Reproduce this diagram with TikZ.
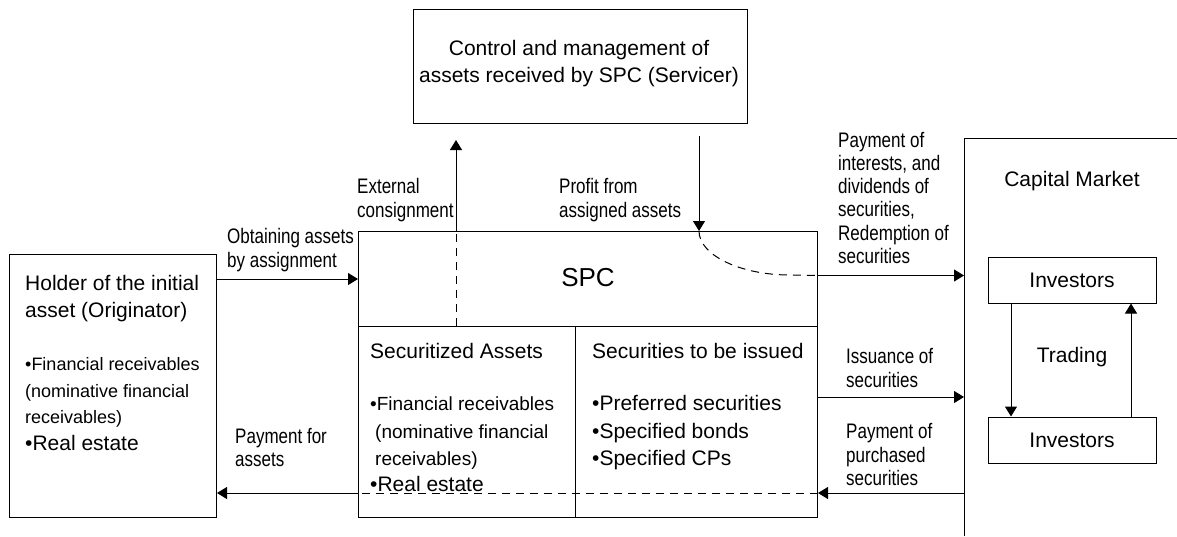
\documentclass[tikz,border=0pt]{standalone}
\usepackage{fontspec}
\setmainfont{Liberation Sans}
\newfontfamily\narrowfont{Liberation Sans}[FakeStretch=0.81]
\usetikzlibrary{arrows.meta,calc}

\begin{document}
\begin{tikzpicture}[x=1pt,y=-1pt,
	box/.style={draw, line width=1pt, inner sep=0pt},
	arr/.style={line width=1pt, -{Triangle[length=10pt,width=12pt]}},
	dsh/.style={line width=1pt, dash pattern=on 8pt off 6pt},
	txt/.style={inner sep=0pt, anchor=base west, font=\fontsize{21}{27}\selectfont},
	small/.style={txt, font=\fontsize{18.5}{27}\selectfont},
	lbl/.style={inner sep=0pt, anchor=base west, font=\narrowfont\fontsize{21}{24}\selectfont}]
	\useasboundingbox (0,0) rectangle (1177,536);
	% boxes
	\node [box, anchor=north west, minimum width=207pt, minimum height=263pt] (orig) at (9,254) {};
	\node [box, anchor=north west, minimum width=334pt, minimum height=114pt] (serv) at (413,9) {};
	\node [box, anchor=north west, minimum width=459pt, minimum height=95pt] (spc) at (358,231) {};
	\node [box, anchor=north west, minimum width=217pt, minimum height=191pt] (secA) at (358,326) {};
	\node [box, anchor=north west, minimum width=242pt, minimum height=191pt] (secB) at (575,326) {};
	\node [box, minimum width=168pt, minimum height=46pt, font=\fontsize{21}{27}\selectfont] (inv1) at (1072,280) {Investors};
	\node [box, minimum width=168pt, minimum height=46pt, font=\fontsize{21}{27}\selectfont] (inv2) at (1072,440) {Investors};
	\coordinate (capm) at (964,138);
	\draw [line width=1pt] (1177,138) -- (capm) -- (capm |- 0,536);
	% texts in the boxes
	\node [txt] (orig1) at (25,290) {Holder of the initial};
	\node [txt] (orig2) at (25,317) {asset (Originator)};
	\node [small, font=\fontsize{18}{27}\selectfont] (orig3) at (25,370) {•Financial receivables};
	\node [small, font=\fontsize{18}{27}\selectfont] (orig4) at (25,397) {(nominative financial};
	\node [small, font=\fontsize{18}{27}\selectfont] (orig5) at (25,423) {receivables)};
	\node [txt] (orig6) at (25,450) {•Real estate};
	\node [txt, anchor=base] (serv1) at (579,55) {Control and management of};
	\node [txt, anchor=base] (serv2) at (579,82) {assets received by SPC (Servicer)};
	\node [txt, anchor=base, font=\fontsize{26}{30}\selectfont] (spc1) at (588,286) {SPC};
	\node [txt] (secA1) at (370,358) {Securitized Assets};
	\node [small, font=\fontsize{19}{27}\selectfont] (secA2) at (370,410) {•Financial receivables};
	\node [small, font=\fontsize{19}{27}\selectfont] (secA3) at (375,438) {(nominative financial};
	\node [small, font=\fontsize{19}{27}\selectfont] (secA4) at (375,465) {receivables)};
	\node [txt] (secA5) at (370,491) {•Real estate};
	\node [txt] (secB1) at (592,358) {Securities to be issued};
	\node [txt] (secB2) at (592,410) {•Preferred securities};
	\node [txt] (secB3) at (592,438) {•Specified bonds};
	\node [txt] (secB4) at (592,465) {•Specified CPs};
	\node [txt, anchor=base] (capm1) at (1072,186) {Capital Market};
	\node [txt, anchor=base] (trade) at (1072,362) {Trading};
	% connectors
	\draw [arr] (orig.east |- spc.west) -- (spc.west);
	\coordinate (ext) at (456,140);
	\draw [dsh] (ext |- secA.north) -- (ext |- spc.north);
	\draw [arr] (ext |- spc.north) -- (ext);
	\coordinate (prof) at (699,136);
	\coordinate (intpt) at ([yshift=3.5pt]spc.east);
	\draw [arr] (prof) -- (prof |- spc.north);
	\draw [dsh] (prof |- spc.north) .. controls +(0,24) and +(-50,0) .. (790,275) -- (intpt);
	\draw [arr] (intpt) -- (intpt -| capm);
	\coordinate (iss) at (964,397);
	\draw [arr] (iss -| secB.east) -- (iss);
	\coordinate (pay) at (964,493);
	\draw [arr] (pay) -- (pay -| secB.east);
	\draw [dsh] (pay -| secB.east) -- (pay -| secA.west);
	\draw [arr] (pay -| secA.west) -- (pay -| orig.east);
	\draw [arr] ([xshift=-61pt]inv1.south) -- ([xshift=-61pt]inv2.north);
	\draw [arr] ([xshift=59pt]inv2.north) -- ([xshift=59pt]inv1.south);
	% connector labels
	\node [lbl] (obt1) at (227,243) {Obtaining assets};
	\node [lbl] (obt2) at (227,267) {by assignment};
	\node [lbl] (ext1) at (357,193) {External};
	\node [lbl] (ext2) at (357,217) {consignment};
	\node [lbl] (prof1) at (559,193) {Profit from};
	\node [lbl] (prof2) at (559,217) {assigned assets};
	\node [lbl] (int1) at (838,147) {Payment of};
	\node [lbl] (int2) at (838,170.3) {interests, and};
	\node [lbl] (int3) at (838,193.6) {dividends of};
	\node [lbl] (int4) at (838,216.9) {securities,};
	\node [lbl] (int5) at (838,240.2) {Redemption of};
	\node [lbl] (int6) at (838,263.5) {securities};
	\node [lbl] (iss1) at (846,363) {Issuance of};
	\node [lbl] (iss2) at (846,387) {securities};
	\node [lbl] (pur1) at (846,438) {Payment of};
	\node [lbl] (pur2) at (846,462) {purchased};
	\node [lbl] (pur3) at (846,485) {securities};
	\node [lbl] (payf1) at (235,443) {Payment for};
	\node [lbl] (payf2) at (235,466) {assets};
\end{tikzpicture}
\end{document}
